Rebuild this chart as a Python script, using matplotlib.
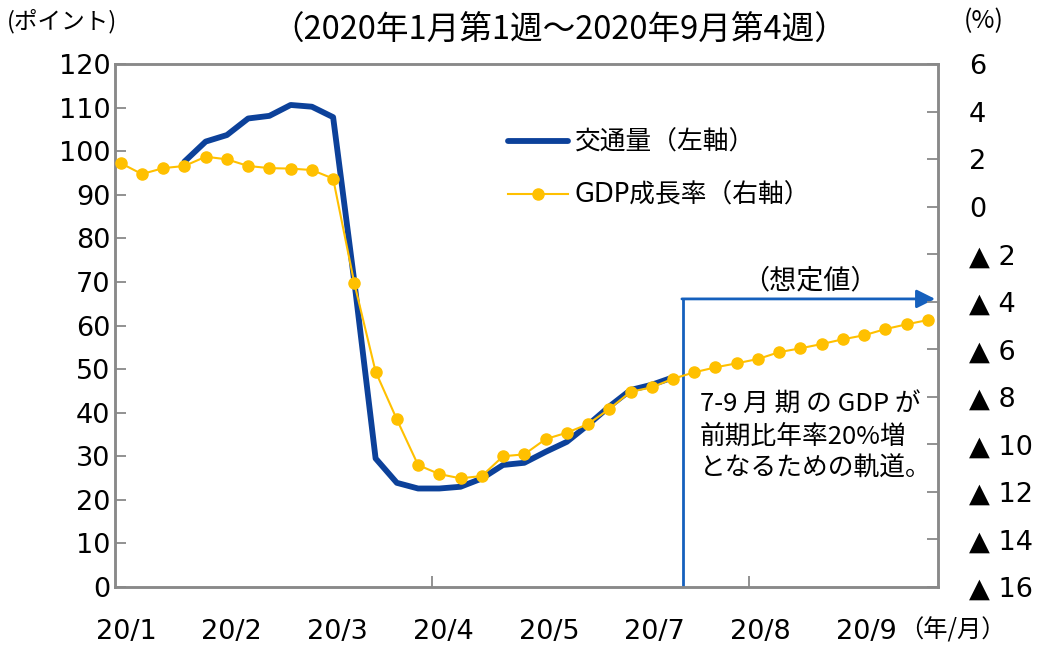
import matplotlib
matplotlib.use("Agg")
import matplotlib.pyplot as plt
from matplotlib.ticker import FixedLocator
import numpy as np

plt.rcParams['font.family'] = ['DejaVu Sans', 'Noto Sans CJK JP']

# ---- data (weekly, 2020 week1 Jan .. week4 Sep) ----
weeks = list(range(39))
traffic = [None, None, None, 97.6, 102.2, 103.7, 107.5, 108.1, 110.6, 110.2,
           107.8, 70.0, 29.5, 23.9, 22.6, 22.6, 23.0, 24.9, 28.0, 28.5,
           31.0, 33.3, 37.2, 41.4, 45.2, 46.4, 48.1] + [None] * 12
gdp = [1.83, 1.37, 1.62, 1.71, 2.10, 1.99, 1.71, 1.62, 1.60, 1.54,
       1.18, -3.23, -6.94, -8.95, -10.87, -11.25, -11.43, -11.33, -10.50, -10.42,
       -9.78, -9.51, -9.15, -8.51, -7.79, -7.60, -7.24, -6.97, -6.76, -6.59,
       -6.41, -6.12, -5.96, -5.78, -5.58, -5.41, -5.15, -4.95, -4.77]

month_labels = ['20/1', '20/2', '20/3', '20/4', '20/5', '20/7', '20/8', '20/9']
month_pos = [0.25 + 4.98 * k for k in range(len(month_labels))]
tick_marks = [14.67, 29.6]

left_ticks = list(range(0, 121, 10))
right_ticks = list(range(6, -17, -2))
right_labels = [str(v) if v >= 0 else '▲ ' + str(-v) for v in right_ticks]

BLUE = '#0c419a'
GOLD = '#ffc000'
ARROW = '#1560bd'
SPINE = '#898989'

t = np.array([np.nan if v is None else v for v in traffic], dtype=float)

fig = plt.figure(figsize=(10.45, 6.46), dpi=100)
ax = fig.add_axes([114.5 / 1045, 59 / 646, (938.3 - 114.5) / 1045, (587 - 64) / 646])
ax2 = ax.twinx()

l1, = ax.plot(weeks, t, color=BLUE, lw=4.2, solid_capstyle='round', zorder=3,
              label='交通量（左軸）')
l2, = ax2.plot(weeks, gdp, color=GOLD, lw=1.5, marker='o', markersize=8,
               zorder=4, label='GDP成長率（右軸）')
ax.set_zorder(1)
ax2.set_zorder(2)
ax2.patch.set_visible(False)

ax.set_xlim(-0.292, 38.49)
ax.set_ylim(0, 120)
ax2.set_ylim(-16, 6)

ax.set_yticks(left_ticks)
ax.tick_params(axis='y', direction='in', length=8, width=1.3, color=SPINE,
               labelsize=19.5, pad=3)
ax2.set_yticks(right_ticks)
ax2.set_yticklabels(right_labels)
ax2.tick_params(axis='y', direction='in', length=8, width=1.3, color=SPINE,
                labelsize=19.5, pad=22)

ax.set_xticks(month_pos)
ax.set_xticklabels(month_labels)
ax.xaxis.set_minor_locator(FixedLocator(tick_marks))
ax.tick_params(axis='x', which='major', length=0, labelsize=19.5, pad=23)
ax.tick_params(axis='x', which='minor', direction='in', length=8, width=1.3, color=SPINE)

for a in (ax, ax2):
    for s in a.spines.values():
        s.set_color(SPINE)
        s.set_linewidth(1.8)

# scenario arrow
ARROW_X = 26.47
ARROW_Y = 66.1
ARROW_END = 38.34
ax.plot([ARROW_X, ARROW_X], [0, ARROW_Y], color=ARROW, lw=2, zorder=2)
ax.annotate('', xy=(ARROW_END, ARROW_Y), xytext=(ARROW_X - 0.05, ARROW_Y),
            arrowprops=dict(arrowstyle='-|>', color=ARROW, lw=2, mutation_scale=28,
                            shrinkA=0, shrinkB=0), zorder=2)
ax.text(32.45, 70.3, '（想定値）', fontsize=19.5, ha='center', va='center',
        family=['Noto Sans CJK JP'])
ax.text(27.25, 45.0, '7-9 月 期 の GDP が\n前期比年率20%増\nとなるための軌道。',
        fontsize=18.5, ha='left', va='top', linespacing=1.33,
        family=['Noto Sans CJK JP'])

# legend
fig.legend(handles=[l1, l2], loc='upper left',
           bbox_to_anchor=(508 / 1045, 1 - 130 / 646), frameon=False,
           fontsize=18.5, handlelength=2.35, handletextpad=0.25,
           labelspacing=1.05, borderpad=0, borderaxespad=0)

# titles and axis units
fig.text(559 / 1045, 1 - 31 / 646, '（2020年1月第1週～2020年9月第4週）', fontsize=23.5,
         ha='center', va='center', family=['Noto Sans CJK JP'])
fig.text(62 / 1045, 1 - 21 / 646, '(ポイント)', fontsize=17, ha='center', va='center',
         family=['Noto Sans CJK JP'])
fig.text(984 / 1045, 1 - 21 / 646, '(%)', fontsize=18, ha='center', va='center',
         family=['Noto Sans CJK JP'])
fig.text(952 / 1045, 1 - 630 / 646, '（年/月）', fontsize=17.5, ha='center', va='center',
         family=['Noto Sans CJK JP'])

fig.savefig('out.png', dpi=100)
